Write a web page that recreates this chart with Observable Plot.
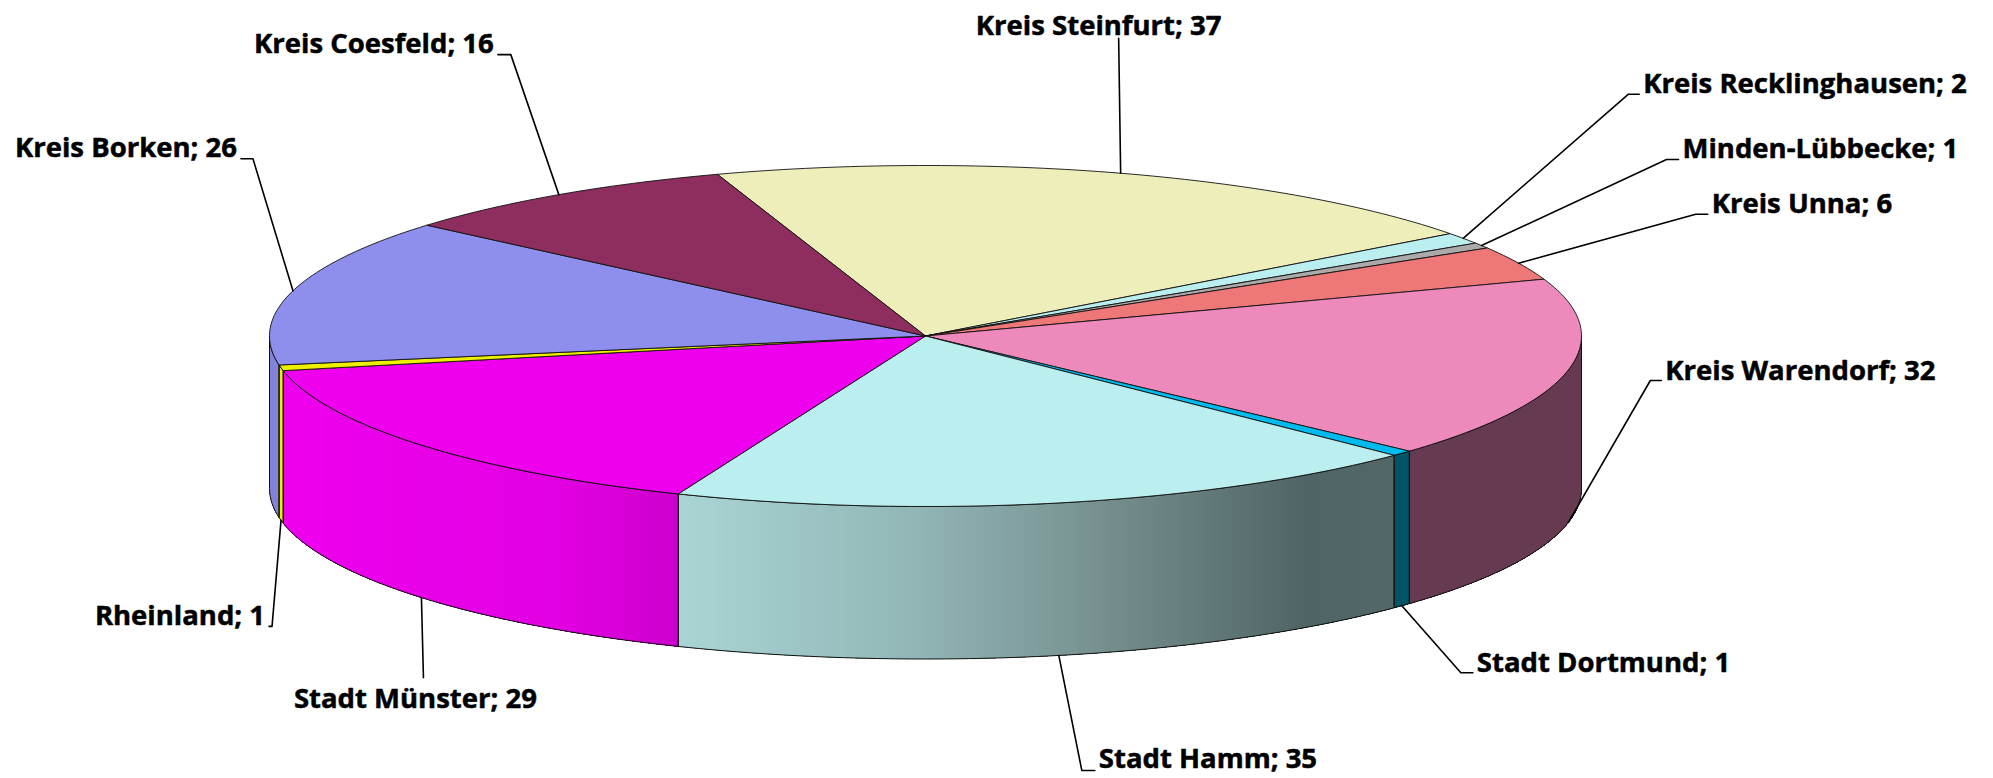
<!DOCTYPE html>
<html>
<head>
<meta charset="utf-8">
<script src="https://cdn.jsdelivr.net/npm/d3@7"></script>
<script src="https://cdn.jsdelivr.net/npm/@observablehq/plot@0.6"></script>
<style>html,body{margin:0;padding:0;background:#fff}</style>
</head>
<body>
<div id="chart"></div>
<script>
// Data
const names = ["Kreis Steinfurt","Kreis Recklinghausen","Minden-Lübbecke","Kreis Unna","Kreis Warendorf","Stadt Dortmund","Stadt Hamm","Stadt Münster","Rheinland","Kreis Borken","Kreis Coesfeld"];
const values = [37,2,1,6,32,1,35,29,1,26,16];

// Styles
const topColors = ["#eeeebb","#bbeeee","#aaaaaa","#ee7777","#ee8abb","#00bbee","#bbeeee","#ee00ee","#eeee00","#8e8eec","#8e2e5e"];
const wallStops = [
  null,null,null,null,
  [[0,"#663a50"],[1,"#663a50"]],
  [[0,"#005468"],[1,"#005468"]],
  [[680,"#aad4d4"],[913,"#92b6b6"],[1100,"#76908f"],[1308,"#4f6465"],[1400,"#536868"]],
  [[290,"#ee00ee"],[560,"#e200e2"],[680,"#cb00cb"]],
  [[0,"#eeee00"],[1,"#eeee00"]],
  [[0,"#8282d6"],[1,"#8282d6"]],
  null
];

// Layout of the projected pie
const cx = 925, cy = 335.5, rx = 656, ry = 170.5, depth = 152.5, startDeg = -18.5;
// Leader-line shape, relative to the point on the pie rim that each slice's mid angle gives
const elbowDx = [-2,165,185,177,82,59,23,2,-9,-40,-48];
const elbowDy = [-135,-144,-86,-49,-142,67,115,80,106,-132,-140];
const stubDx  = [0,11,12,12,11,12,13,0,-3,-12,-13];
const textDx  = [-20,4,4,4,4,4,4,-8,-4,-4,-4];
const textDy  = [-12,-10,-10,-10,-9,-10,-11,22,-10,-11,-10];
const textAnchors = ["middle","start","start","start","start","start","start","middle","end","end","end"];

const rad = d => d * Math.PI / 180;
const project = (deg, drop = 0) => ({x: cx + rx * Math.sin(rad(deg)), y: cy - ry * Math.cos(rad(deg)) + drop});
const total = d3.sum(values);
const perUnit = 360 / total;
const cum = [0, ...d3.cumsum(values)];
const slices = names.map((name, i) => ({
  i, name, value: values[i],
  a0: startDeg + cum[i] * perUnit,
  a1: startDeg + cum[i + 1] * perUnit
}));

const arc = (a0, a1, step, drop = 0) => {
  const n = Math.max(1, Math.ceil((a1 - a0) / step));
  return d3.range(n + 1).map(k => project(a0 + (a1 - a0) * k / n, drop));
};

// Walls: thin strips, coloured by horizontal position
const wallColor = i => {
  const st = wallStops[i];
  if (!st) return () => "#000";
  const s = d3.scaleLinear().domain(st.map(d => d[0])).range(st.map(d => d[1])).clamp(true);
  return x => d3.color(s(x)).formatHex();
};
const strips = [], wallOutlines = [];
for (const s of slices) {
  const a0 = Math.max(s.a0, 90), a1 = Math.min(s.a1, 270);
  if (a1 <= a0) continue;
  const col = wallColor(s.i);
  const n = Math.max(1, Math.ceil((a1 - a0) / 0.25));
  for (let k = 0; k < n; k++) {
    const b0 = a0 + (a1 - a0) * k / n, b1 = a0 + (a1 - a0) * (k + 1) / n;
    const p = project((b0 + b1) / 2);
    const fill = col(p.x);
    const id = `s${s.i}-${k}`;
    const P = [project(b0), project(b1), project(b1, depth), project(b0, depth), project(b0)];
    P.forEach(q => strips.push({...q, id, fill}));
  }
  const outline = [...arc(a0, a1, 1), ...arc(a0, a1, 1, depth).reverse()];
  outline.push(outline[0]);
  outline.forEach(q => wallOutlines.push({...q, id: `w${s.i}`}));
}

// Top face
const tops = [];
for (const s of slices) {
  const P = [{x: cx, y: cy}, ...arc(s.a0, s.a1, 1), {x: cx, y: cy}];
  P.forEach(q => tops.push({...q, id: `t${s.i}`, fill: topColors[s.i]}));
}

// Leaders and labels
const leaders = [], labels = [];
for (const s of slices) {
  const mid = (s.a0 + s.a1) / 2;
  const lower = mid > 90 && mid < 270;
  const A = project(mid, lower ? depth : 0);
  const E = {x: A.x + elbowDx[s.i], y: A.y + elbowDy[s.i]};
  const T = {x: E.x + stubDx[s.i], y: E.y};
  [A, E, T].forEach(q => leaders.push({...q, id: s.i}));
  labels.push({x: T.x + textDx[s.i], y: T.y + textDy[s.i], text: `${s.name}; ${s.value}`, anchor: textAnchors[s.i]});
}

const font = {fontFamily: "'Open Sans', sans-serif", fontWeight: 700, fontSize: 27.5, fill: "#000", stroke: "#000", strokeWidth: 0.5, lineAnchor: "middle"};

const chart = Plot.plot({
  width: 1993, height: 778, margin: 0,
  style: {background: "#fff", overflow: "visible"},
  x: {domain: [0, 1993], range: [0, 1993], axis: null},
  y: {domain: [0, 778], range: [0, 778], axis: null},
  color: {type: "identity"},
  marks: [
    Plot.line(strips, {x: "x", y: "y", z: "id", fill: "fill", shapeRendering: "crispEdges", curve: "linear", stroke: "fill", strokeWidth: 1}),
    Plot.line(wallOutlines, {x: "x", y: "y", z: "id", stroke: "#111", strokeWidth: 1, curve: "linear"}),
    Plot.line(tops, {x: "x", y: "y", z: "id", fill: "fill", stroke: "#111", strokeWidth: 0.9, strokeLinejoin: "round", curve: "linear"}),
    Plot.line(leaders, {x: "x", y: "y", z: "id", stroke: "#000", strokeWidth: 1.6, curve: "linear"}),
    ...["start", "middle", "end"].map(anchor =>
      Plot.text(labels.filter(d => d.anchor === anchor), {x: "x", y: "y", text: "text", textAnchor: anchor, ...font}))
  ]
});
document.getElementById("chart").append(chart);
</script>
</body>
</html>
